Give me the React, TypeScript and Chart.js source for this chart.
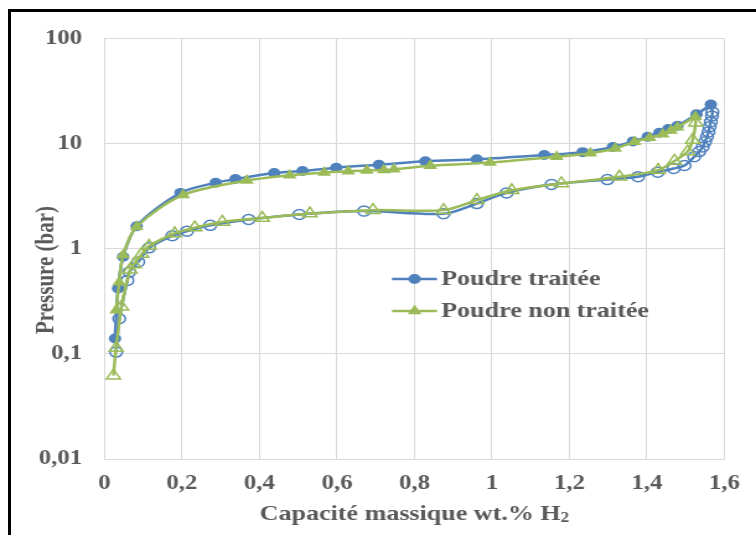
import React, { useEffect, useRef } from 'react';
import { Chart, registerables } from 'chart.js';
Chart.register(...registerables);

// ---- data ----
const X_MIN = 0;
const X_MAX = 1.6;
const X_STEP = 0.2;
const Y_TICKS = [0.01, 0.1, 1, 10, 100];
const LEGEND_LABELS = ['Poudre traitée', 'Poudre non traitée'];
const Y_TITLE = 'Pressure (bar)';
const X_TITLE = 'Capacité massique wt.% H';
const X_TITLE_SUB = '2';

// Poudre traitée – absorption (filled circles)
const traiteeAbsX = [0.027, 0.035, 0.048, 0.083, 0.196, 0.287, 0.338, 0.438, 0.511, 0.598, 0.708, 0.828, 0.961, 1.135, 1.234, 1.312, 1.364, 1.402, 1.432, 1.455, 1.479, 1.528, 1.565];
const traiteeAbsY = [0.14, 0.42, 0.84, 1.64, 3.4, 4.25, 4.6, 5.25, 5.5, 5.9, 6.3, 6.8, 7.1, 7.8, 8.3, 9.3, 10.5, 11.6, 12.7, 13.8, 14.8, 19, 23.5];
// Poudre traitée – desorption (open circles)
const traiteeDesX = [1.565, 1.569, 1.568, 1.565, 1.562, 1.559, 1.555, 1.55, 1.544, 1.535, 1.522, 1.497, 1.469, 1.428, 1.377, 1.298, 1.154, 1.038, 0.961, 0.875, 0.67, 0.503, 0.372, 0.273, 0.213, 0.175, 0.115, 0.087, 0.064, 0.059, 0.038, 0.03];
const traiteeDesY = [23.5, 20, 18.3, 16.1, 14.5, 12.9, 11.6, 10.4, 9.3, 8.4, 7.5, 6.2, 5.8, 5.35, 4.85, 4.55, 4.08, 3.4, 2.69, 2.15, 2.28, 2.12, 1.9, 1.67, 1.47, 1.33, 1.02, 0.75, 0.6, 0.5, 0.216, 0.104];
// Poudre non traitée – absorption (filled triangles)
const nonTraiteeAbsX = [0.03, 0.038, 0.048, 0.083, 0.203, 0.367, 0.478, 0.567, 0.629, 0.677, 0.721, 0.747, 0.841, 0.995, 1.167, 1.254, 1.318, 1.368, 1.407, 1.441, 1.462, 1.479, 1.525];
const nonTraiteeAbsY = [0.26, 0.48, 0.87, 1.62, 3.25, 4.45, 5.0, 5.3, 5.45, 5.55, 5.6, 5.7, 6.15, 6.6, 7.5, 8.1, 9.0, 10.4, 11.4, 12.3, 13.3, 14.3, 18];
// Poudre non traitée – desorption (open triangles)
const nonTraiteeDesX = [1.525, 1.526, 1.518, 1.505, 1.471, 1.429, 1.329, 1.179, 1.051, 0.961, 0.875, 0.693, 0.53, 0.407, 0.304, 0.233, 0.181, 0.115, 0.096, 0.076, 0.066, 0.044, 0.03, 0.023];
const nonTraiteeDesY = [18, 15.8, 10.8, 8.4, 6.85, 5.6, 4.83, 4.18, 3.6, 2.9, 2.33, 2.33, 2.16, 1.96, 1.8, 1.59, 1.4, 1.06, 0.89, 0.71, 0.63, 0.28, 0.114, 0.062];

// ---- style ----
const BLUE = '#4F81BD';
const GREEN = '#9BBB59';
const TEXT = '#595959';
const GRID = '#d9d9d9';
const FONT = "'Liberation Serif', 'Times New Roman', serif";

const W = 610; // drawn width, stretched horizontally to 756
const H = 535;
const SX = 756 / W;

const pts = (xs: number[], ys: number[]) => xs.map((x, i) => ({ x, y: ys[i] }));

const fmt = (v: number) => String(Number(v.toFixed(2))).replace('.', ',');

function drawMarker(ctx: CanvasRenderingContext2D, style: string, x: number, y: number, r: number, color: string) {
  ctx.beginPath();
  if (style === 'circle') {
    ctx.arc(x, y, r, 0, Math.PI * 2);
  } else {
    let a = 0;
    ctx.moveTo(x + Math.sin(a) * r, y - Math.cos(a) * r);
    a += (2 * Math.PI) / 3;
    ctx.lineTo(x + Math.sin(a) * r, y - Math.cos(a) * r);
    a += (2 * Math.PI) / 3;
    ctx.lineTo(x + Math.sin(a) * r, y - Math.cos(a) * r);
    ctx.closePath();
  }
  ctx.fillStyle = color;
  ctx.fill();
}

const overlay = {
  id: 'overlay',
  afterDraw(chart: any) {
    const ctx: CanvasRenderingContext2D = chart.ctx;
    const ca = chart.chartArea;
    // Y title
    ctx.save();
    ctx.fillStyle = TEXT;
    ctx.font = `bold 21px ${FONT}`;
    ctx.translate(37.9, 270);
    ctx.rotate(-Math.PI / 2);
    ctx.textAlign = 'center';
    ctx.textBaseline = 'middle';
    ctx.fillText(Y_TITLE, 0, 0);
    ctx.restore();

    // X title with subscript
    ctx.save();
    ctx.fillStyle = TEXT;
    ctx.textBaseline = 'alphabetic';
    ctx.font = `bold 21px ${FONT}`;
    const w1 = ctx.measureText(X_TITLE).width;
    ctx.font = `bold 14px ${FONT}`;
    const w2 = ctx.measureText(X_TITLE_SUB).width;
    const cx = (ca.left + ca.right) / 2;
    const x0 = cx - (w1 + w2) / 2;
    const base = 520;
    ctx.font = `bold 21px ${FONT}`;
    ctx.textAlign = 'left';
    ctx.fillText(X_TITLE, x0, base);
    ctx.font = `bold 14px ${FONT}`;
    ctx.fillText(X_TITLE_SUB, x0 + w1, base + 2);
    ctx.restore();

    // legend
    const items = [
      { label: LEGEND_LABELS[0], color: BLUE, style: 'circle', r: 5, y: 279 },
      { label: LEGEND_LABELS[1], color: GREEN, style: 'triangle', r: 6.5, y: 311 },
    ];
    ctx.save();
    for (const it of items) {
      ctx.strokeStyle = it.color;
      ctx.lineWidth = 2.5;
      ctx.beginPath();
      ctx.moveTo(316.3, it.y);
      ctx.lineTo(352.6, it.y);
      ctx.stroke();
      drawMarker(ctx, it.style, 334.5, it.y, it.r, it.color);
      ctx.fillStyle = TEXT;
      ctx.font = `bold 21px ${FONT}`;
      ctx.textAlign = 'left';
      ctx.textBaseline = 'middle';
      ctx.fillText(it.label, 356, it.y + 1);
    }
    ctx.restore();
  },
};

export default function App() {
  const ref = useRef<HTMLCanvasElement>(null);
  useEffect(() => {
    if (!ref.current) return;
    const tickFont = { family: FONT, size: 20, weight: 'bold' as const };
    const chart = new Chart(ref.current, {
      type: 'scatter',
      data: {
        datasets: [
          {
            label: LEGEND_LABELS[1],
            data: pts(nonTraiteeAbsX, nonTraiteeAbsY),
            showLine: true,
            borderColor: GREEN,
            backgroundColor: GREEN,
            borderWidth: 2.5,
            pointStyle: 'triangle',
            pointRadius: 6.5,
            pointBorderWidth: 0,
            pointBackgroundColor: GREEN,
            tension: 0.3,
            order: 0,
          },
          {
            label: LEGEND_LABELS[1] + ' (désorption)',
            data: pts(nonTraiteeDesX, nonTraiteeDesY),
            showLine: true,
            borderColor: GREEN,
            backgroundColor: 'rgba(0,0,0,0)',
            borderWidth: 2.5,
            pointStyle: 'triangle',
            pointRadius: nonTraiteeDesX.map((_, i) => (i === 0 ? 0 : 6.5)),
            pointBorderWidth: 1.5,
            pointBorderColor: GREEN,
            pointBackgroundColor: 'rgba(0,0,0,0)',
            tension: 0.3,
            order: 1,
          },
          {
            label: LEGEND_LABELS[0],
            data: pts(traiteeAbsX, traiteeAbsY),
            showLine: true,
            borderColor: BLUE,
            backgroundColor: BLUE,
            borderWidth: 2.5,
            pointStyle: 'circle',
            pointRadius: 5,
            pointBorderWidth: 0,
            pointBackgroundColor: BLUE,
            tension: 0.3,
            order: 2,
          },
          {
            label: LEGEND_LABELS[0] + ' (désorption)',
            data: pts(traiteeDesX, traiteeDesY),
            showLine: true,
            borderColor: BLUE,
            backgroundColor: 'rgba(0,0,0,0)',
            borderWidth: 2.5,
            pointStyle: 'circle',
            pointRadius: traiteeDesX.map((_, i) => (i === 0 ? 0 : 5)),
            pointBorderWidth: 1.5,
            pointBorderColor: BLUE,
            pointBackgroundColor: 'rgba(0,0,0,0)',
            tension: 0.3,
            order: 3,
          },
        ],
      },
      options: {
        animation: false,
        responsive: false,
        devicePixelRatio: 1,
        layout: { padding: { left: 0, top: 38.5, right: W - 727 / SX, bottom: 0 } },
        plugins: { legend: { display: false }, tooltip: { enabled: false } },
        scales: {
          x: {
            type: 'linear',
            min: X_MIN,
            max: X_MAX,
            afterFit: (s: any) => { s.height = H - 459; },
            grid: { color: GRID, lineWidth: 1, drawTicks: false },
            border: { color: GRID, width: 1 },
            ticks: {
              stepSize: X_STEP,
              color: TEXT,
              font: tickFont,
              padding: 13,
              maxRotation: 0,
              callback: (v: any) => fmt(Number(v)),
            },
          },
          y: {
            type: 'logarithmic',
            min: Y_TICKS[0],
            max: Y_TICKS[Y_TICKS.length - 1],
            afterFit: (s: any) => { s.width = 104.5 / SX; },
            afterBuildTicks: (s: any) => { s.ticks = Y_TICKS.map((v) => ({ value: v })); },
            grid: { color: GRID, lineWidth: 1, drawTicks: false },
            border: { color: GRID, width: 1 },
            ticks: {
              color: TEXT,
              font: tickFont,
              padding: 18,
              callback: (v: any) => fmt(Number(v)),
            },
          },
        },
      },
      plugins: [overlay],
    });
    return () => chart.destroy();
  }, []);

  return (
    <div style={{ position: 'absolute', left: 0, top: 0, width: 756, height: 535, overflow: 'hidden', background: '#fff' }}>
      <canvas
        ref={ref}
        width={W}
        height={H}
        style={{ position: 'absolute', left: 0, top: 0, width: W, height: H, transform: `scaleX(${SX})`, transformOrigin: '0 0' }}
      />
      <div style={{ position: 'absolute', left: 8, top: 9, width: 800, height: 600, borderLeft: '3px solid #000', borderTop: '3px solid #000', boxSizing: 'border-box', pointerEvents: 'none' }} />
    </div>
  );
}
